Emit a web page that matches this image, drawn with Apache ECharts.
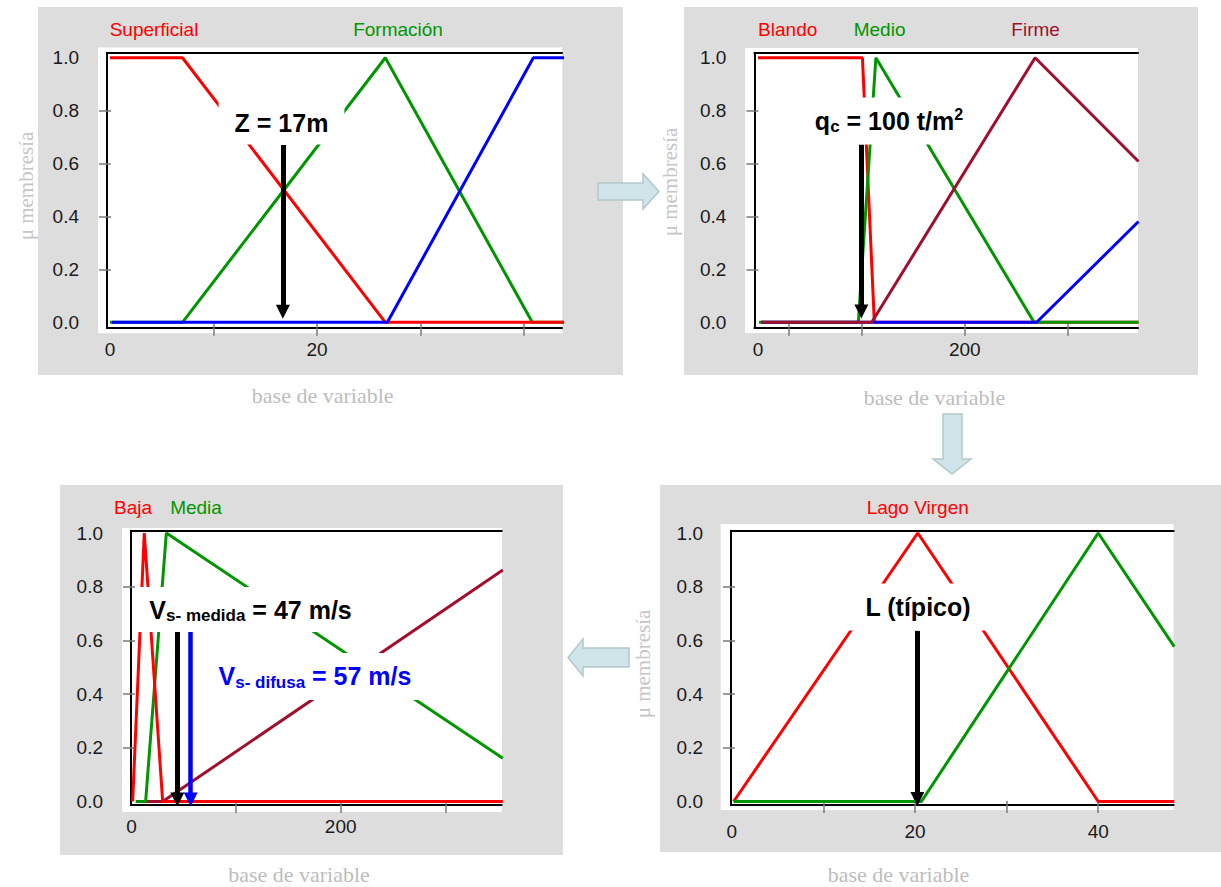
<!DOCTYPE html>
<html>
<head>
<meta charset="utf-8">
<script src="https://cdn.jsdelivr.net/npm/echarts@6/dist/echarts.min.js"></script>
<style>
html,body{margin:0;padding:0;background:#fff;}
#c{width:1221px;height:887px;}
</style>
</head>
<body>
<div id="c"></div>
<script>
const SANS = "'Liberation Sans', Arial, Helvetica, sans-serif";
const SERIF = "'Liberation Serif', 'Times New Roman', serif";
const RED = '#ff0000', GREEN = '#009600', BLUE = '#0000ff', MAROON = '#a0102e';

// ---------- Panel 1 (profundidad Z)
const p1Superficial = [[0,1],[7,1],[26.6,0],[44,0]];
const p1Formacion   = [[0,0],[7,0],[26.6,1],[40.8,0],[44,0]];
const p1Profundo    = [[0.2,0],[26.8,0],[40.9,1],[44,1]];
const p1Arrow = {x:16.7, top:0.67, end:0.04};
const p1Note  = [16.57, 0.753];
const p1XLabels = [0, 20];
const p1XTicks  = [10, 20, 30, 40];
const p1Range   = [-0.29, 43.67];

// ---------- Panel 2 (qc)
const p2Blando = [[0,1],[101,1],[112.5,0],[368,0]];
const p2Medio  = [[1,0],[97,0],[114,1],[267,0],[368,0]];
const p2Firme  = [[3,0],[110,0],[268,1],[368,0.608]];
const p2Duro   = [[3,0],[269.5,0],[368,0.381]];
const p2Arrow = {x:100, top:0.672, end:0.041};
const p2Note  = [126.7, 0.761];
const p2XLabels = [0, 200];
const p2XTicks  = [30, 100, 200, 300];
const p2Range   = [-3.48, 367.5];

// ---------- Panel 3 (Vs)
const p3Baja  = [[1.1,0],[12.2,1],[29.8,0],[355,0]];
const p3Media = [[4,0],[13.5,0],[33.3,1],[355,0.161]];
const p3Alta  = [[6,0],[29.8,0],[355,0.862]];
const p3ArrowMedida = {x:43.8, top:0.632, end:0.0075};
const p3ArrowDifusa = {x:56.6, top:0.632, end:0.0075};
const p3NoteMedida = [113.8, 0.715];
const p3NoteDifusa = [175.4, 0.466];
const p3XLabels = [0, 200];
const p3XTicks  = [100, 200, 300];
const p3Range   = [-0.48, 353.9];

// ---------- Panel 4 (L)
const p4LagoVirgen = [[0.2,0],[20.3,1],[40,0],[48.3,0]];
const p4Otro       = [[0.2,0],[20.7,0],[40,1],[48.3,0.577]];
const p4Arrow = {x:20.26, top:0.636, end:0.009};
const p4Note  = [20.33, 0.724];
const p4XLabels = [0, 20, 40];
const p4XTicks  = [10, 20, 30, 40];
const p4Range   = [-0.087, 48.23];

// ---------- shared y axis
const yLabels = [0, 0.2, 0.4, 0.6, 0.8, 1.0];
const yTicks  = [0.2, 0.4, 0.6, 0.8];
const yRangeTop    = [-0.0204, 1.019];
const yRangeBottom = [-0.013, 1.0086];

// ---------- layout
const grids = [
  {left:107,   top:52.7,  width:455,   height:275},
  {left:754.4, top:52.7,  width:383.6, height:275},
  {left:131,   top:530.7, width:370.7, height:274.3},
  {left:731,   top:530.7, width:442.6, height:274.3}
];
const xRanges = [p1Range, p2Range, p3Range, p4Range];
const yRanges = [yRangeTop, yRangeTop, yRangeBottom, yRangeBottom];
const xLabelSets = [p1XLabels, p2XLabels, p3XLabels, p4XLabels];
const xTickSets = [p1XTicks, p2XTicks, p3XTicks, p4XTicks];
const xLabelMargins = [12, 12, 12, 17];

const xAxes = [], yAxes = [];
grids.forEach((g, i) => {
  const [xmin, xmax] = xRanges[i];
  const [ymin, ymax] = yRanges[i];
  const base = {type:'value', gridIndex:i, min:xmin, max:xmax, splitLine:{show:false}, axisPointer:{show:false}};
  xAxes.push(Object.assign({}, base, {
    position:'bottom',
    axisLine:{show:true, onZero:false, lineStyle:{color:'#000', width:2}},
    axisTick:{show:true, inside:false, length:8, customValues:xTickSets[i], lineStyle:{color:'#7a7a7a', width:1.5}},
    axisLabel:{show:true, customValues:xLabelSets[i], margin:xLabelMargins[i], color:'#1a1a1a', fontSize:19, fontFamily:SANS}
  }));
  xAxes.push(Object.assign({}, base, {
    position:'bottom',
    axisLine:{show:false, onZero:false},
    axisTick:{show:true, inside:true, length:4, customValues:xTickSets[i], lineStyle:{color:'#7a7a7a', width:1.5}},
    axisLabel:{show:false}
  }));
  xAxes.push(Object.assign({}, base, {
    position:'top',
    axisLine:{show:true, onZero:false, lineStyle:{color:'#000', width:2}},
    axisTick:{show:false}, axisLabel:{show:false}
  }));
  const ybase = {type:'value', gridIndex:i, min:ymin, max:ymax, position:'left', splitLine:{show:false}, axisPointer:{show:false}};
  yAxes.push(Object.assign({}, ybase, {
    axisLine:{show:true, onZero:false, lineStyle:{color:'#000', width:2}},
    axisTick:{show:true, inside:false, length:8, customValues:yTicks, lineStyle:{color:'#7a7a7a', width:1.5}},
    axisLabel:{show:true, customValues:yLabels, margin:28, color:'#1a1a1a', fontSize:19, fontFamily:SANS,
      formatter:v => Number(v).toFixed(1)}
  }));
  yAxes.push(Object.assign({}, ybase, {
    axisLine:{show:false, onZero:false},
    axisTick:{show:true, inside:true, length:4, customValues:yTicks, lineStyle:{color:'#7a7a7a', width:1.5}},
    axisLabel:{show:false}
  }));
});

function line(gi, data, color) {
  return {type:'line', xAxisIndex:gi*3, yAxisIndex:gi*2, data:data, symbol:'none', showSymbol:false,
    lineStyle:{color:color, width:3}, itemStyle:{color:color}, silent:true, animation:false,
    emphasis:{disabled:true}, z:2};
}

const RICH = {
  m:    {fontSize:25, fontWeight:'bold', fontFamily:SANS, lineHeight:29, color:'#000'},
  sub:  {fontSize:17, fontWeight:'bold', fontFamily:SANS, lineHeight:10, verticalAlign:'bottom', color:'#000'},
  subq: {fontSize:17, fontWeight:'bold', fontFamily:SANS, lineHeight:13, verticalAlign:'bottom', color:'#000'},
  sup:  {fontSize:16, fontWeight:'bold', fontFamily:SANS, lineHeight:20, verticalAlign:'top', color:'#000'},
  mb:   {fontSize:25, fontWeight:'bold', fontFamily:SANS, lineHeight:29, color:BLUE},
  subb: {fontSize:17, fontWeight:'bold', fontFamily:SANS, lineHeight:10, verticalAlign:'bottom', color:BLUE}
};

function notes(gi, items, arrows) {
  return {
    type:'scatter', xAxisIndex:gi*3, yAxisIndex:gi*2, z:10, symbolSize:1,
    itemStyle:{color:'rgba(255,255,255,0)', opacity:1}, silent:true, animation:false, emphasis:{disabled:true},
    label:{show:true, position:'inside', backgroundColor:'#fff', rich:RICH, color:'#000', opacity:1},
    data: items.map(it => ({value:it.pos, label:{formatter:it.text, padding:it.pad}})),
    markLine:{
      silent:true, animation:false, symbol:['none','triangle'], symbolSize:14,
      label:{show:false}, emphasis:{disabled:true},
      lineStyle:{type:'solid', opacity:1},
      data: arrows.map(a => [
        {coord:[a.x, a.top], lineStyle:{color:a.color, width:a.w, type:'solid', opacity:1}},
        {coord:[a.x, a.end]}
      ])
    }
  };
}

const series = [
  // panel 1
  line(0, p1Formacion, GREEN),
  line(0, p1Superficial, RED),
  line(0, p1Profundo, BLUE),
  notes(0, [{pos:p1Note, text:'{m|Z = 17m}', pad:[7,16]}],
        [Object.assign({color:'#000', w:5}, p1Arrow)]),
  // panel 2
  line(1, p2Blando, RED),
  line(1, p2Medio, GREEN),
  line(1, p2Duro, BLUE),
  line(1, p2Firme, MAROON),
  notes(1, [{pos:p2Note, text:'{m|q}{subq|c}{m| = 100 t/m}{sup|2}', pad:[9,16]}],
        [Object.assign({color:'#000', w:5}, p2Arrow)]),
  // panel 3
  line(2, p3Alta, MAROON),
  line(2, p3Media, GREEN),
  line(2, p3Baja, RED),
  notes(2, [
      {pos:p3NoteMedida, text:'{m|V}{sub|s- medida}{m| = 47 m/s}', pad:[8,14]},
      {pos:p3NoteDifusa, text:'{mb|V}{subb|s- difusa}{mb| = 57 m/s}', pad:[9,12]}
    ],
    [Object.assign({color:'#000', w:5}, p3ArrowMedida), Object.assign({color:BLUE, w:4.5}, p3ArrowDifusa)]),
  // panel 4
  line(3, p4LagoVirgen, RED),
  line(3, p4Otro, GREEN),
  notes(3, [{pos:p4Note, text:'{m|L (típico)}', pad:[9,17]}],
        [Object.assign({color:'#000', w:5}, p4Arrow)])
];

// ---------- decorations (panels, block arrows, texts)
const panelBoxes = [[38,7,585,368],[684,7,514,368],[60,485,503,370],[660,485,561,367]];
const plotBoxes  = [[98,47.5,464.3,285.8],[745,48,393,285],[122,528,380,284],[720.7,524,452.9,286]];
const graphics = [];
panelBoxes.forEach(b => graphics.push({type:'rect', z:-20, silent:true,
  shape:{x:b[0], y:b[1], width:b[2], height:b[3]}, style:{fill:'#dddddd'}}));
plotBoxes.forEach(b => graphics.push({type:'rect', z:-19, silent:true,
  shape:{x:b[0], y:b[1], width:b[2], height:b[3]}, style:{fill:'#ffffff'}}));

const flowArrows = [
  [[598,183],[643,183],[643,174],[659,191.5],[643,209],[643,200],[598,200]],
  [[943,414],[962,414],[962,459],[971,459],[952,474],[933,459],[943,459]],
  [[629,648],[583,648],[583,639],[568,657.5],[583,676],[583,667],[629,667]]
];
flowArrows.forEach(p => graphics.push({type:'polygon', z:-18, silent:true,
  shape:{points:p}, style:{fill:'#cfe5e9', stroke:'#b3c7ca', lineWidth:1.5}}));

function txt(s, x, y, color, font, rot) {
  return {type:'text', x:x, y:y, rotation:rot||0, z:5, silent:true,
    style:{text:s, x:0, y:0, fill:color, font:font,
      align:'center', verticalAlign:'middle', textAlign:'center', textVerticalAlign:'middle'}};
}
const F_T = "19px " + SANS;
const F_X = "22px " + SERIF;
const F_Y = "21px " + SERIF;
graphics.push(
  txt('Superficial', 154, 29.5, RED, F_T),
  txt('Formación', 398, 29.5, GREEN, F_T),
  txt('Blando', 787.7, 29.5, RED, F_T),
  txt('Medio', 879.6, 29.5, GREEN, F_T),
  txt('Firme', 1035.6, 29.5, MAROON, F_T),
  txt('Baja', 133, 507, RED, F_T),
  txt('Media', 196, 507, GREEN, F_T),
  txt('Lago Virgen', 917.7, 507, RED, F_T),
  txt('base de variable', 322.7, 395.5, '#bdbdbd', F_X),
  txt('base de variable', 934.5, 397.5, '#bdbdbd', F_X),
  txt('base de variable', 299, 874.5, '#bdbdbd', F_X),
  txt('base de variable', 898.5, 874.5, '#bdbdbd', F_X),
  txt('μ membresía', 25.5, 186, '#c6c6c6', F_Y, Math.PI/2),
  txt('μ membresía', 670, 182, '#c6c6c6', F_Y, Math.PI/2),
  txt('μ membresía', 643, 664, '#c6c6c6', F_Y, Math.PI/2)
);

const chart = echarts.init(document.getElementById('c'), null, {renderer:'svg', width:1221, height:887});
chart.setOption({
  animation:false,
  backgroundColor:'#ffffff',
  grid: grids.map(g => Object.assign({containLabel:false, outerBoundsMode:'none', show:false}, g)),
  xAxis: xAxes,
  yAxis: yAxes,
  series: series,
  graphic: {elements: graphics}
});
</script>
</body>
</html>
